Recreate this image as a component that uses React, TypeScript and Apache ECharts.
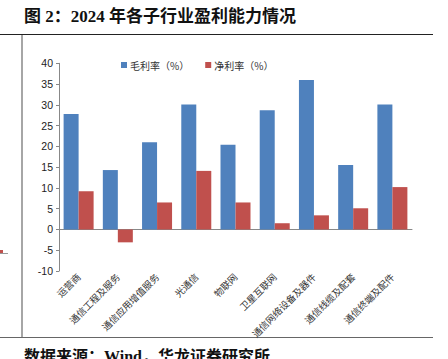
import React, { useEffect, useRef } from "react";
import * as echarts from "echarts";

const categories = [
  "运营商",
  "通信工程及服务",
  "通信应用增值服务",
  "光通信",
  "物联网",
  "卫星互联网",
  "通信网络设备及器件",
  "通信线缆及配套",
  "通信终端及配件",
];
const grossMargin = [27.8, 14.3, 21.0, 30.1, 20.4, 28.7, 36.0, 15.5, 30.1];
const netMargin = [9.2, -3.1, 6.5, 14.1, 6.5, 1.5, 3.4, 5.1, 10.2];
const seriesNames = ["毛利率（%）", "净利率（%）"];
const titleText = "图 2：2024 年各子行业盈利能力情况";
const sourceText = "数据来源：Wind，华龙证券研究所";

const CJK = "'Noto Sans CJK SC', sans-serif";
const SERIF = "'Liberation Serif', 'Noto Sans CJK SC', serif";

export default function App() {
  const ref = useRef<HTMLDivElement>(null);
  useEffect(() => {
    if (!ref.current) return;
    const chart = echarts.init(ref.current, undefined, { renderer: "svg" });
    chart.setOption({
      animation: false,
      backgroundColor: "#ffffff",
      graphic: [
        {
          type: "text",
          left: 24,
          top: 8,
          style: {
            text: titleText,
            font: `bold 17px ${SERIF}`,
            fill: "#111",
          },
        },
        {
          type: "line",
          shape: { x1: 0, y1: 34.5, x2: 433, y2: 34.5 },
          style: { stroke: "#222", lineWidth: 1.2 },
        },
        {
          type: "line",
          shape: { x1: 22, y1: 35, x2: 22, y2: 337 },
          style: { stroke: "#888", lineWidth: 1.5 },
        },
        {
          type: "line",
          shape: { x1: 0, y1: 337.5, x2: 433, y2: 337.5 },
          style: { stroke: "#666", lineWidth: 1.2 },
        },
        {
          type: "rect",
          shape: { x: 0, y: 250, width: 3, height: 3 },
          style: { fill: "#C0504D" },
        },
        {
          type: "line",
          shape: { x1: 0, y1: 253.5, x2: 8, y2: 253.5 },
          style: { stroke: "#999", lineWidth: 1 },
        },
        {
          type: "text",
          left: 24,
          top: 348,
          style: {
            text: sourceText,
            font: `bold 16px ${SERIF}`,
            fill: "#111",
          },
        },
      ],
      legend: {
        left: 116,
        top: 55,
        itemWidth: 6,
        itemHeight: 6,
        itemGap: 16,
        icon: "rect",
        textStyle: { fontSize: 10, fontFamily: CJK, color: "#333", padding: [0, 0, 0, -2] },
        data: seriesNames,
      },
      grid: { left: 59, right: 36, top: 63.3, bottom: 88, containLabel: false },
      xAxis: {
        type: "category",
        data: categories,
        axisLine: { onZero: true, lineStyle: { color: "#888", width: 1 } },
        axisTick: { show: false },
        axisLabel: {
          rotate: 45,
          interval: 0,
          fontSize: 9.5,
          fontFamily: CJK,
          color: "#333",
          margin: 4,
        },
      },
      yAxis: {
        type: "value",
        min: -10,
        max: 40,
        interval: 5,
        splitLine: { show: false },
        axisLine: { show: true, lineStyle: { color: "#888", width: 1 } },
        axisTick: { show: true, length: 3, lineStyle: { color: "#888" } },
        axisLabel: {
          fontSize: 10.5,
          fontFamily: "'Liberation Sans', Arial, sans-serif",
          color: "#222",
          margin: 6,
        },
      },
      series: [
        {
          name: seriesNames[0],
          type: "bar",
          data: grossMargin,
          barWidth: 15,
          barGap: "0%",
          itemStyle: { color: "#4F81BD" },
        },
        {
          name: seriesNames[1],
          type: "bar",
          data: netMargin,
          barWidth: 15,
          barGap: "0%",
          itemStyle: { color: "#C0504D" },
        },
      ],
    });
    return () => chart.dispose();
  }, []);
  return (
    <div
      ref={ref}
      style={{ position: "absolute", left: 0, top: 0, width: 448, height: 359 }}
    />
  );
}
